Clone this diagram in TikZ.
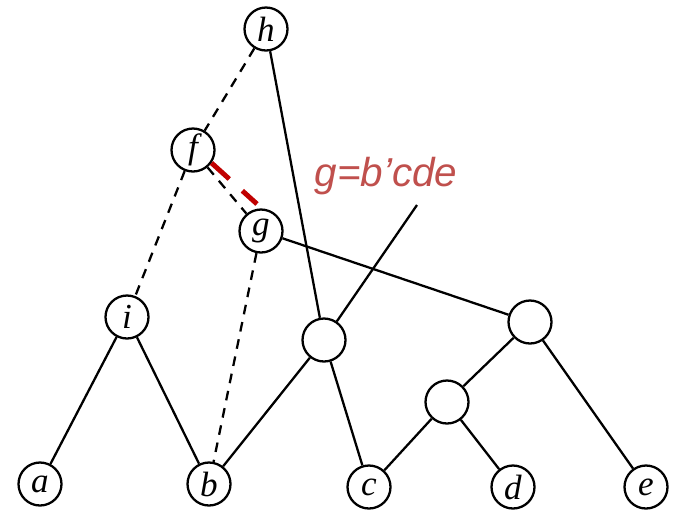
\documentclass[tikz,border=0pt]{standalone}
\usepackage{fontspec}
\usepackage{tikz}
\usepackage{amsmath,amssymb}
\newfontfamily\notefont{Liberation Sans}
\newfontfamily\vtxfont{Liberation Serif}
\definecolor{notered}{RGB}{192,80,77}
\definecolor{cutred}{RGB}{192,0,0}

\begin{document}
\begin{tikzpicture}[scale=0.2, line width=1.3pt,
  vtx/.style={draw, circle, minimum size=0.86cm, inner sep=0pt, fill=white, font=\vtxfont\itshape\fontsize{20}{22}\selectfont},
  dashlink/.style={dash pattern=on 5.5pt off 4.5pt},
  cutlink/.style={cutred, line width=2.8pt, dash pattern=on 13.6pt off 10pt}]
\useasboundingbox (0,0) rectangle (67.7,-51.1);
\node [vtx] (h) at (26.6,-2.9) {h};
\node [vtx] (f) at (19.3,-15) {f};
\node [vtx] (g) at (26.1,-23.1) {g};
\node [vtx] (i) at (12.7,-31.7) {i};
\node [vtx] (a) at (4,-48.4) {a};
\node [vtx] (b) at (20.9,-48.4) {b};
\node [vtx] (c) at (36.9,-48.7) {c};
\node [vtx] (d) at (51.3,-48.7) {d};
\node [vtx] (e) at (64.6,-48.7) {e};
\node [vtx] (bc) at (32.4,-34) {};
\node [vtx] (cde) at (53,-32.2) {};
\node [vtx] (cd) at (44.7,-40.2) {};
\draw [dashlink] (h) -- (f);
\draw [dashlink] (f) -- (i);
\draw [dashlink] (f) -- (g);
\draw [dashlink] (g) -- (b);
\draw (h) -- (bc);
\draw (g) -- (cde);
\draw (i) -- (a);
\draw (i) -- (b);
\draw (b) -- (bc);
\draw (bc) -- (c);
\draw (cde) -- (cd);
\draw (cde) -- (e);
\draw (cd) -- (c);
\draw (cd) -- (d);
\coordinate (tip) at (41.7,-20.5);
\draw (bc) -- (tip);
\coordinate (gcut) at (25.7,-20.4);
\draw [cutlink] (f.-35) -- (gcut);
\node [notered, anchor=base, font=\notefont\itshape\fontsize{23}{26}\selectfont] (note) at (38.6,-18.6) {g=b’cde};
\end{tikzpicture}
\end{document}
